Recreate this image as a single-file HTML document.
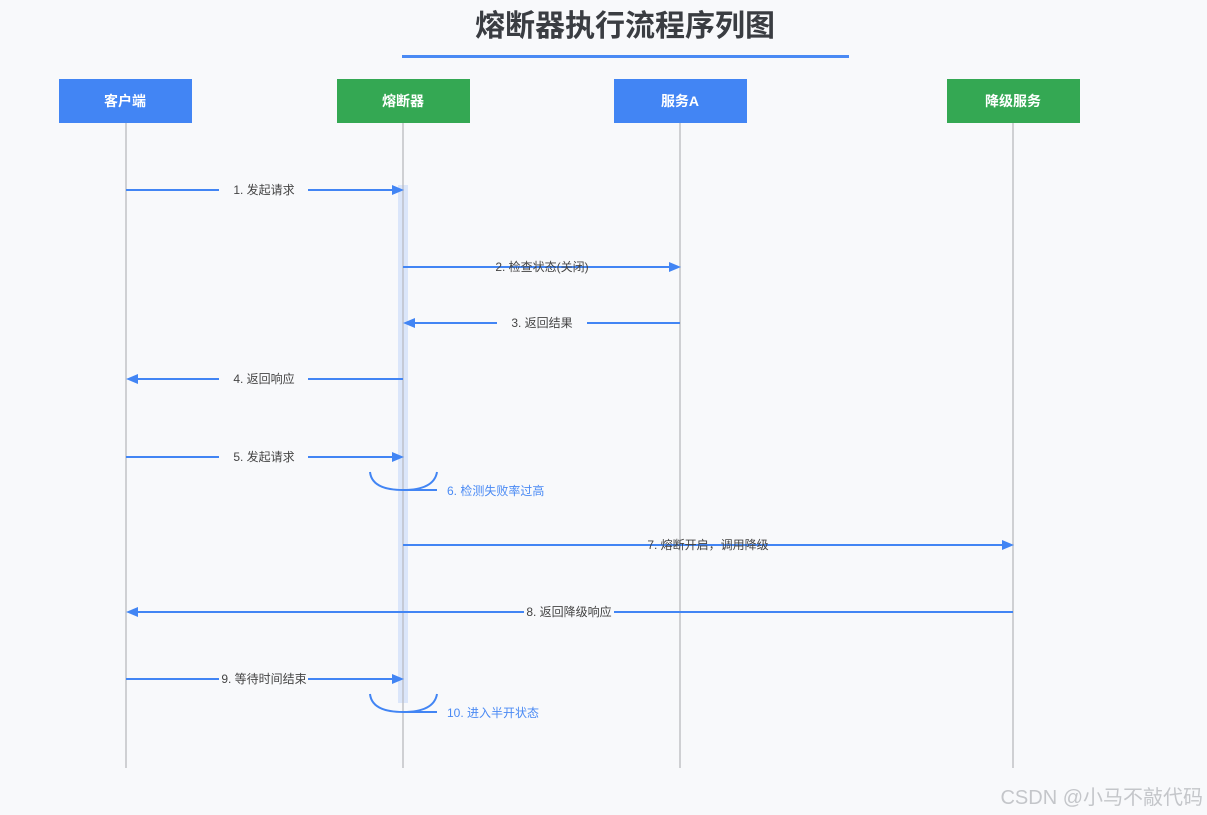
<!DOCTYPE html>
<html><head><meta charset="utf-8"><style>
html,body{margin:0;padding:0;background:#f8f9fb;}
svg{display:block;}
text{font-family:"Liberation Sans","Noto Sans CJK SC",sans-serif;}
</style></head><body>
<svg width="1207" height="815" viewBox="0 0 1207 815" xmlns="http://www.w3.org/2000/svg">
<rect width="1207" height="815" fill="#f8f9fb"/>
<text x="625" y="36" text-anchor="middle" font-size="30" font-weight="bold" fill="#3a3d42">熔断器执行流程序列图</text>
<rect x="402" y="55" width="447" height="3" fill="#4a8af4"/>
<!-- lifelines -->
<g stroke="#cfd0d3" stroke-width="2">
<line x1="126" y1="123" x2="126" y2="768"/>
<line x1="403" y1="123" x2="403" y2="768"/>
<line x1="680" y1="123" x2="680" y2="768"/>
<line x1="1013" y1="123" x2="1013" y2="768"/>
</g>
<rect x="398" y="185" width="10" height="518" fill="#dbe6fa"/>
<line x1="403" y1="185" x2="403" y2="703" stroke="#c5cad6" stroke-width="2"/>
<!-- boxes -->
<rect x="59" y="79" width="133" height="44" fill="#4285f4"/>
<rect x="337" y="79" width="133" height="44" fill="#34a853"/>
<rect x="614" y="79" width="133" height="44" fill="#4285f4"/>
<rect x="947" y="79" width="133" height="44" fill="#34a853"/>
<g fill="#fff" font-size="14" font-weight="bold" text-anchor="middle">
<text x="125" y="106">客户端</text>
<text x="403" y="106">熔断器</text>
<text x="680" y="106">服务A</text>
<text x="1013" y="106">降级服务</text>
</g>
<g stroke="#4285f4" stroke-width="2" fill="none">
<line x1="126" y1="190" x2="219" y2="190"/><line x1="308" y1="190" x2="392" y2="190"/>
<line x1="403" y1="267" x2="670" y2="267"/>
<line x1="414" y1="323" x2="497" y2="323"/><line x1="587" y1="323" x2="680" y2="323"/>
<line x1="137" y1="379" x2="219" y2="379"/><line x1="308" y1="379" x2="403" y2="379"/>
<line x1="126" y1="457" x2="219" y2="457"/><line x1="308" y1="457" x2="392" y2="457"/>
<line x1="403" y1="545" x2="1002" y2="545"/>
<line x1="137" y1="612" x2="524" y2="612"/><line x1="614" y1="612" x2="1013" y2="612"/>
<line x1="126" y1="679" x2="219" y2="679"/><line x1="308" y1="679" x2="392" y2="679"/>
<path d="M370 472 Q372 490 403 490 Q434 490 437 472"/><line x1="403" y1="490" x2="437" y2="490"/>
<path d="M370 694 Q372 712 403 712 Q434 712 437 694"/><line x1="403" y1="712" x2="437" y2="712"/>
</g>
<g fill="#4285f4">
<path d="M392 185 L404 190 L392 195Z"/>
<path d="M669 262 L681 267 L669 272Z"/>
<path d="M415 318 L403 323 L415 328Z"/>
<path d="M138 374 L126 379 L138 384Z"/>
<path d="M392 452 L404 457 L392 462Z"/>
<path d="M1002 540 L1014 545 L1002 550Z"/>
<path d="M138 607 L126 612 L138 617Z"/>
<path d="M392 674 L404 679 L392 684Z"/>
</g>
<g font-size="12" fill="#444" text-anchor="middle">
<text x="264" y="194">1. 发起请求</text>
<text x="542" y="271">2. 检查状态(关闭)</text>
<text x="542" y="327">3. 返回结果</text>
<text x="264" y="383">4. 返回响应</text>
<text x="264" y="461">5. 发起请求</text>
<text x="708" y="549">7. 熔断开启，调用降级</text>
<text x="569" y="616">8. 返回降级响应</text>
<text x="264" y="683">9. 等待时间结束</text>
</g>
<g font-size="12" fill="#4a8af4">
<text x="447" y="495">6. 检测失败率过高</text>
<text x="447" y="717">10. 进入半开状态</text>
</g>
<text x="1203" y="804" text-anchor="end" font-size="20" fill="#c4c6ca">CSDN @小马不敲代码</text>
</svg>
</body></html>
